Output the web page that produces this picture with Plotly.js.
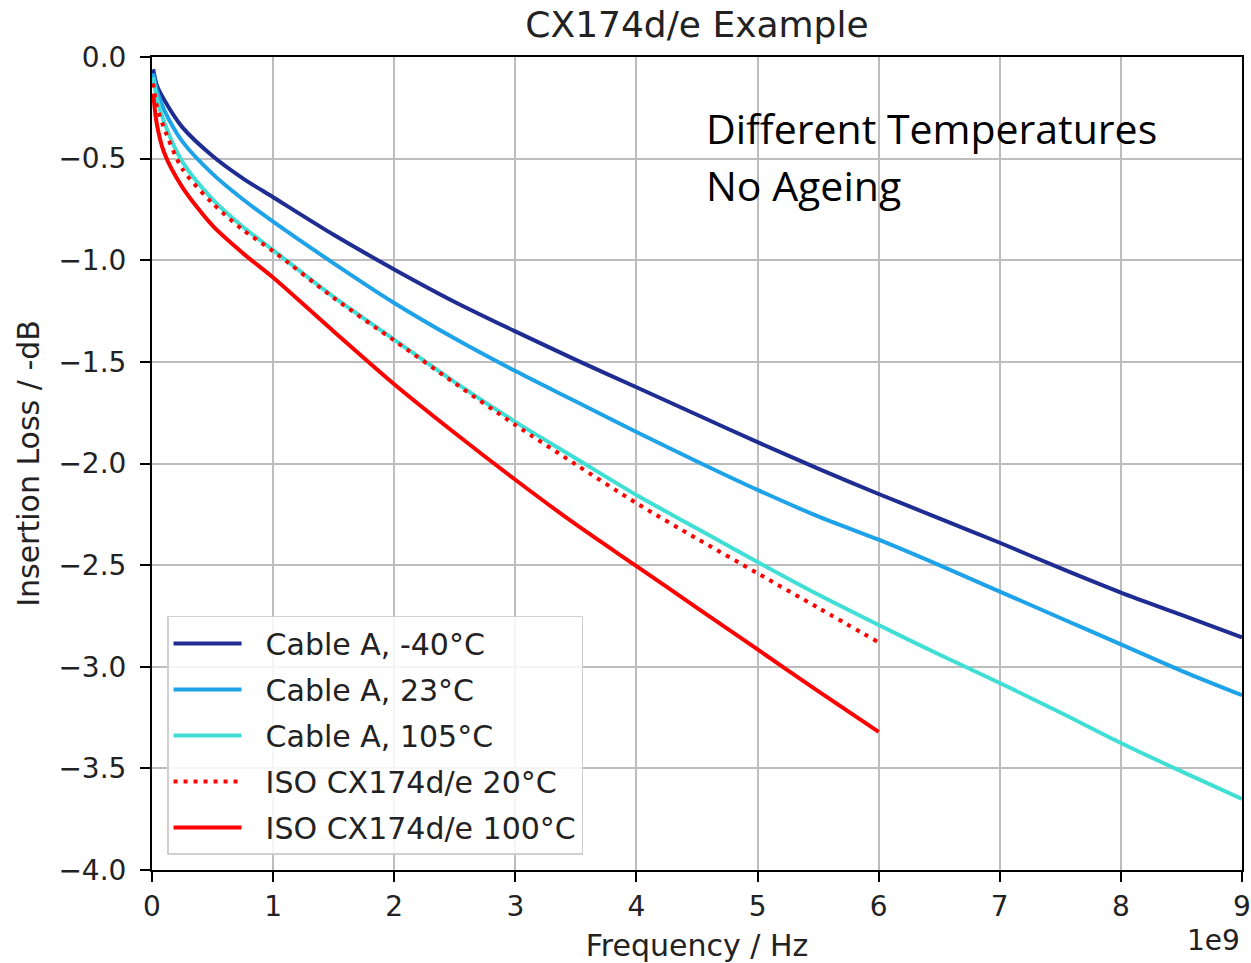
<!DOCTYPE html>
<html>
<head>
<meta charset="utf-8">
<script src="https://cdn.plot.ly/plotly-3.0.1.min.js"></script>
<style>
  html, body { margin: 0; padding: 0; background: #ffffff; }
  #chart { width: 1251px; height: 963px; }
</style>
</head>
<body>
<div id="chart"></div>
<script>
// Frequency in GHz (converted to Hz when plotting)
const freqCableGHz = [0.01, 0.04, 0.1, 0.25, 0.5, 0.75, 1, 1.5, 2, 2.5, 3, 3.5, 4, 4.5, 5, 5.5, 6, 6.5, 7, 7.5, 8, 8.5, 9];
const freqIsoGHz   = [0.01, 0.04, 0.1, 0.25, 0.5, 0.75, 1, 1.5, 2, 2.5, 3, 3.5, 4, 4.5, 5, 5.5, 6];

const cableA_m40 = [-0.06, -0.14, -0.21, -0.345, -0.487, -0.597, -0.69, -0.875, -1.045, -1.205, -1.35, -1.49, -1.625, -1.76, -1.895, -2.025, -2.15, -2.27, -2.39, -2.515, -2.635, -2.745, -2.855];
const cableA_23  = [-0.08, -0.165, -0.26, -0.415, -0.575, -0.70, -0.81, -1.015, -1.21, -1.385, -1.545, -1.695, -1.845, -1.99, -2.13, -2.26, -2.375, -2.50, -2.63, -2.76, -2.89, -3.02, -3.14];
const cableA_105 = [-0.10, -0.20, -0.32, -0.515, -0.70, -0.835, -0.95, -1.18, -1.39, -1.60, -1.795, -1.975, -2.155, -2.32, -2.485, -2.645, -2.795, -2.94, -3.08, -3.225, -3.375, -3.515, -3.65];
const iso_20  = [-0.13, -0.24, -0.35, -0.55, -0.72, -0.85, -0.955, -1.185, -1.395, -1.605, -1.81, -2.005, -2.195, -2.37, -2.54, -2.71, -2.88];
const iso_100 = [-0.18, -0.33, -0.47, -0.64, -0.83, -0.965, -1.085, -1.35, -1.61, -1.85, -2.08, -2.30, -2.505, -2.71, -2.915, -3.12, -3.32];

const seriesNames = ["Cable A, -40°C", "Cable A, 23°C", "Cable A, 105°C", "ISO CX174d/e 20°C", "ISO CX174d/e 100°C"];
const xTickVals = [0, 1, 2, 3, 4, 5, 6, 7, 8, 9];
const xTickText = ["0", "1", "2", "3", "4", "5", "6", "7", "8", "9"];

const toHz = a => a.map(v => v * 1e9);
const baseFont = "DejaVu Sans, sans-serif";
const txt = "#222222";

const traces = [
  {x: toHz(freqCableGHz), y: cableA_m40, name: seriesNames[0], line: {color: "#1f2d93", width: 4}},
  {x: toHz(freqCableGHz), y: cableA_23,  name: seriesNames[1], line: {color: "#1ea2e8", width: 4}},
  {x: toHz(freqCableGHz), y: cableA_105, name: seriesNames[2], line: {color: "#40dfd6", width: 4}},
  {x: toHz(freqIsoGHz), y: iso_20,  name: seriesNames[3], line: {color: "#ff0000", width: 4, dash: "4px,6px"}},
  {x: toHz(freqIsoGHz), y: iso_100, name: seriesNames[4], line: {color: "#ff0000", width: 4}}
].map((t, i) => Object.assign(t, {
  type: "scatter", mode: "lines", legendgroup: "g" + i,
  name: "\u00a0\u00a0" + t.name,
  line: Object.assign({shape: "spline", smoothing: 0.8}, t.line)
}));

const layout = {
  width: 1251, height: 963,
  margin: {l: 152, r: 9, t: 57, b: 93},
  paper_bgcolor: "#ffffff", plot_bgcolor: "#ffffff",
  font: {family: baseFont, size: 29, color: txt},
  title: {text: "CX174d/e Example", x: 0.5, xref: "paper", xanchor: "center", y: 0.975, yref: "container", yanchor: "middle", font: {family: baseFont, size: 36, color: txt}},
  xaxis: {
    range: [0, 9e9], tickmode: "array", tickvals: toHz(xTickVals), ticktext: xTickText,
    showgrid: true, gridcolor: "#bdbdbd", gridwidth: 2, zeroline: false,
    showline: true, linecolor: "#000000", linewidth: 2, mirror: true,
    ticks: "outside", ticklen: 10, tickwidth: 2, tickcolor: "#000000",
    tickfont: {family: baseFont, size: 28, color: txt},
    title: {text: "Frequency / Hz", standoff: 14, font: {family: baseFont, size: 30, color: txt}}
  },
  yaxis: {
    range: [-4, 0], dtick: 0.5, tick0: 0, tickformat: ".1f",
    showgrid: true, gridcolor: "#bdbdbd", gridwidth: 2, zeroline: false,
    showline: true, linecolor: "#000000", linewidth: 2, mirror: true,
    ticks: "outside", ticklen: 10, tickwidth: 2, tickcolor: "#000000",
    ticklabelstandoff: 8,
    tickfont: {family: baseFont, size: 28, color: txt},
    title: {text: "Insertion Loss / -dB", standoff: 10, font: {family: baseFont, size: 30, color: txt}}
  },
  showlegend: true,
  legend: {
    x: 0.0138, y: 0.0185, xanchor: "left", yanchor: "bottom",
    bgcolor: "rgba(255,255,255,0.85)", bordercolor: "#d0d0d0", borderwidth: 1.5,
    font: {family: baseFont, size: 30, color: txt},
    traceorder: "grouped", tracegroupgap: 4, itemwidth: 68
  },
  annotations: [
    {text: "Different Temperatures", xref: "paper", yref: "paper", x: 0.506, y: 0.9127, xanchor: "left", yanchor: "middle", showarrow: false, font: {family: "Open Sans, sans-serif", size: 41, color: "#000000"}},
    {text: "No Ageing", xref: "paper", yref: "paper", x: 0.506, y: 0.842, xanchor: "left", yanchor: "middle", showarrow: false, font: {family: "Open Sans, sans-serif", size: 41, color: "#000000"}},
    {text: "1e9", xref: "paper", yref: "paper", x: 1.0, y: -0.087, xanchor: "right", yanchor: "middle", showarrow: false, font: {family: baseFont, size: 28, color: txt}}
  ]
};

Plotly.newPlot("chart", traces, layout, {displayModeBar: false, staticPlot: true});
</script>
</body>
</html>
